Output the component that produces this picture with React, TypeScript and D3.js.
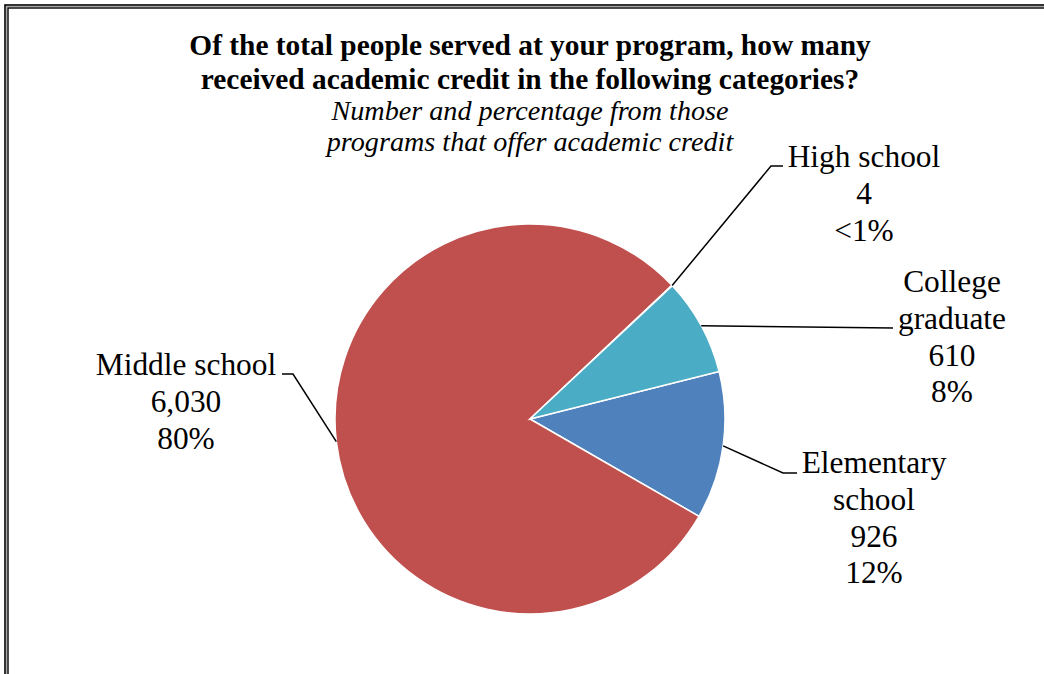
import React from "react";
import * as d3 from "d3";

const categories = ["Elementary school", "Middle school", "High school", "College graduate"];
const values = [926, 6030, 4, 610];
const colors = ["#4F81BD", "#C0504D", "#9BBB59", "#4BACC6"];
const labelLines = [["Elementary", "school"], ["Middle school"], ["High school"], ["College", "graduate"]];

const titleLines = [
  "Of the total people served at your program, how many",
  "received academic credit in the following categories?",
];
const subtitleLines = ["Number and percentage from those", "programs that offer academic credit"];

// layout (label anchor: text centre x, first baseline y; leader elbow/end points)
const labelLayout = [
  { cx: 874, y: 473, path: [[783, 473], [797, 473]] },
  { cx: 186, y: 375, path: [[293, 374], [282, 374]] },
  { cx: 864, y: 167, path: [[771, 166], [783, 166]] },
  { cx: 952, y: 292, path: [[893, 328]] },
];

const W = 1044;
const H = 674;
const CX = 530;
const CY = 419;
const R = 195;
const START_DEG = 75.9;
const FONT = "'Liberation Serif', 'Times New Roman', Times, serif";

export default function App() {
  const total = d3.sum(values);
  const pie = d3
    .pie<number>()
    .sort(null)
    .value((d) => d)
    .startAngle((START_DEG * Math.PI) / 180)
    .endAngle(((START_DEG + 360) * Math.PI) / 180);
  const arcs = pie(values);
  const arcGen = d3.arc<d3.PieArcDatum<number>>().innerRadius(0).outerRadius(R);
  const fmt = d3.format(",");
  const pctText = (v: number) => {
    const p = (v / total) * 100;
    return p < 1 ? "<1%" : `${Math.round(p)}%`;
  };
  const lineH = 36.8;

  return (
    <svg
      width={W}
      height={H}
      style={{ position: "absolute", left: 0, top: 0, display: "block", background: "#fff" }}
    >
      <rect x={0} y={0} width={W} height={H} fill="#fff" />
      {/* double frame */}
      <rect x={5} y={5} width={W + 50} height={H + 50} fill="none" stroke="#000" strokeWidth={1.6} />
      <rect x={6.6} y={6.6} width={W + 50} height={H + 50} fill="none" stroke="#a8a8a8" strokeWidth={1.2} />
      <rect x={8} y={8} width={W + 50} height={H + 50} fill="none" stroke="#000" strokeWidth={1.4} />

      {titleLines.map((t, i) => (
        <text
          key={"t" + i}
          x={530}
          y={55 + i * 34}
          textAnchor="middle"
          fontFamily={FONT}
          fontWeight="bold"
          fontSize={29.4}
          fill="#000"
        >
          {t}
        </text>
      ))}
      {subtitleLines.map((t, i) => (
        <text
          key={"s" + i}
          x={530}
          y={120 + i * 31}
          textAnchor="middle"
          fontFamily={FONT}
          fontStyle="italic"
          fontSize={28.2}
          fill="#000"
        >
          {t}
        </text>
      ))}

      <g transform={`translate(${CX},${CY})`}>
        {arcs.map((a, i) => (
          <path key={i} d={arcGen(a) || ""} fill={colors[i]} stroke="#fff" strokeWidth={1.5} />
        ))}
      </g>

      {arcs.map((a, i) => {
        const mid = (a.startAngle + a.endAngle) / 2;
        const sx = CX + R * Math.sin(mid);
        const sy = CY - R * Math.cos(mid);
        const pts = [[sx, sy], ...labelLayout[i].path];
        const d = d3.line()(pts as [number, number][]) || "";
        return <path key={"l" + i} d={d} fill="none" stroke="#000" strokeWidth={1.5} />;
      })}

      {arcs.map((a, i) => {
        const L = labelLayout[i];
        const lines = [...labelLines[i], fmt(values[i]), pctText(values[i])];
        return (
          <text
            key={"lab" + i}
            x={L.cx}
            y={L.y}
            textAnchor="middle"
            fontFamily={FONT}
            fontSize={31.4}
            fill="#000"
          >
            {lines.map((ln, j) => (
              <tspan key={j} x={L.cx} y={L.y + j * lineH}>
                {ln}
              </tspan>
            ))}
          </text>
        );
      })}
    </svg>
  );
}
